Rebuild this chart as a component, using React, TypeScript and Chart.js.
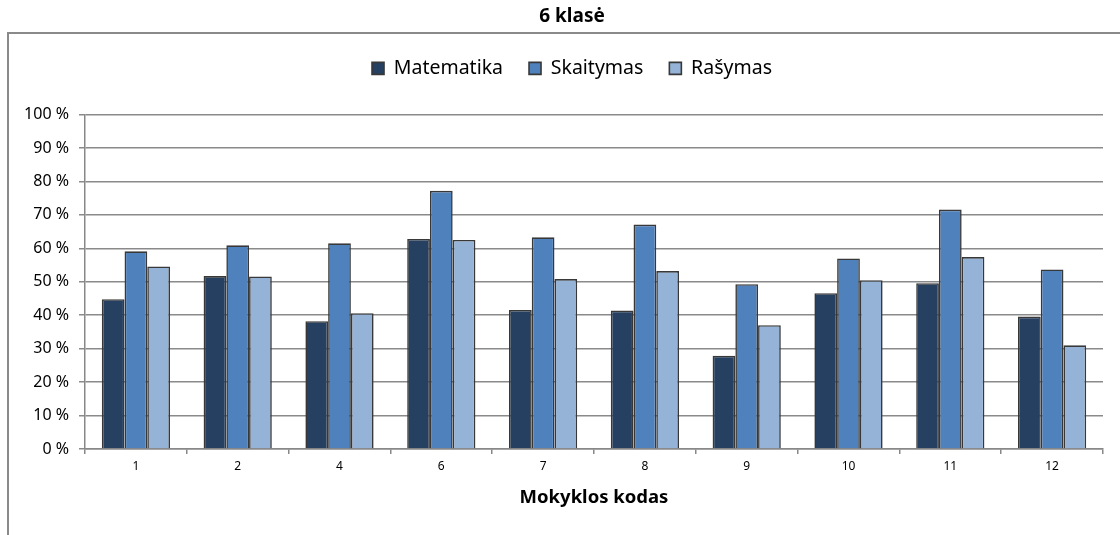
import React, { useEffect, useRef } from "react";
import { Chart, registerables } from "chart.js";

Chart.register(...registerables);

const categories = ["1", "2", "4", "6", "7", "8", "9", "10", "11", "12"];
const matematika = [44.8, 51.7, 38.2, 62.8, 41.6, 41.4, 27.9, 46.6, 49.6, 39.6];
const skaitymas = [59.1, 60.9, 61.5, 77.2, 63.3, 67.1, 49.3, 57.0, 71.6, 53.7];
const rasymas = [54.6, 51.6, 40.6, 62.5, 50.8, 53.2, 37.0, 50.5, 57.4, 31.0];
const seriesNames = ["Matematika", "Skaitymas", "Rašymas"];
const seriesColors = ["#264061", "#4F81BD", "#95B3D7"];
const chartTitle = "6 klasė";
const xTitle = "Mokyklos kodas";

const FONT = "'Noto Sans', sans-serif";

const boxPlugin = {
  id: "outerBox",
  beforeDraw(chart: any) {
    const ctx = chart.ctx;
    ctx.save();
    ctx.strokeStyle = "#8a8a8a";
    ctx.lineWidth = 2;
    ctx.strokeRect(8, 33, 1300, 700);
    ctx.restore();
  },
};

export default function App() {
  const ref = useRef<HTMLCanvasElement>(null);
  useEffect(() => {
    document.body.style.margin = "0";
    const canvas = ref.current!;
    const values = [matematika, skaitymas, rasymas];
    const chart = new Chart(canvas, {
      type: "bar",
      data: {
        labels: categories,
        datasets: seriesNames.map((name, i) => ({
          label: name,
          data: values[i],
          yAxisID: "y",
          backgroundColor: seriesColors[i],
          borderColor: "#383838",
          borderWidth: 1.6,
          categoryPercentage: 0.67,
          barPercentage: 1.0,
        })),
      },
      options: {
        animation: false,
        responsive: false,
        maintainAspectRatio: false,
        layout: { padding: { left: 0, right: -24, top: 0, bottom: 0 } },
        plugins: {
          tooltip: { enabled: false },
          title: {
            display: true,
            text: chartTitle,
            color: "#000",
            font: { family: FONT, size: 19, weight: "bold" },
            padding: { top: 5.5, bottom: 4.3 },
          },
          legend: {
            display: true,
            position: "top",
            labels: {
              color: "#000",
              font: { family: FONT, size: 19.5 },
              boxWidth: 12,
              boxHeight: 12,
              padding: 26,
            },
          },
          subtitle: {
            display: true,
            text: "",
            weight: 500,
            font: { size: 10 },
            padding: { top: 14.5, bottom: 0 },
          } as any,
        },
        scales: {
          x: {
            grid: {
              display: true,
              drawOnChartArea: false,
              drawTicks: true,
              tickLength: 5,
              color: "#888",
              lineWidth: 1.5,
              offset: true,
            },
            border: { display: true, color: "#888", width: 1.5 },
            ticks: {
              color: "#000",
              font: { family: FONT, size: 12 },
              padding: 5,
              maxRotation: 0,
            },
            title: {
              display: true,
              text: xTitle,
              color: "#000",
              font: { family: FONT, size: 18.5, weight: "bold" },
              padding: { top: 0, bottom: 26 },
            },
            afterFit(scale: any) {
              scale.height = 86;
            },
          },
          y: {
            position: "left",
            min: 0,
            max: 100,
            grid: {
              color: "#8a8a8a",
              lineWidth: 1.5,
              drawTicks: true,
              tickLength: 6,
            },
            border: { display: true, color: "#888", width: 1.5 },
            ticks: {
              stepSize: 10,
              color: "#000",
              font: { family: FONT, size: 16 },
              padding: 10,
              callback: (v: any) => v + " %",
            },
            afterFit(scale: any) {
              scale.width = 85;
            },
          },
          yRightSpace: {
            type: "linear",
            position: "right",
            display: true,
            grid: { display: false, drawTicks: false },
            border: { display: false },
            ticks: { display: false },
            afterFit(scale: any) {
              scale.width = 41;
            },
          },
        },
      },
      plugins: [boxPlugin],
    });
    return () => chart.destroy();
  }, []);
  return <canvas ref={ref} width={1120} height={535} style={{ display: "block" }} />;
}
